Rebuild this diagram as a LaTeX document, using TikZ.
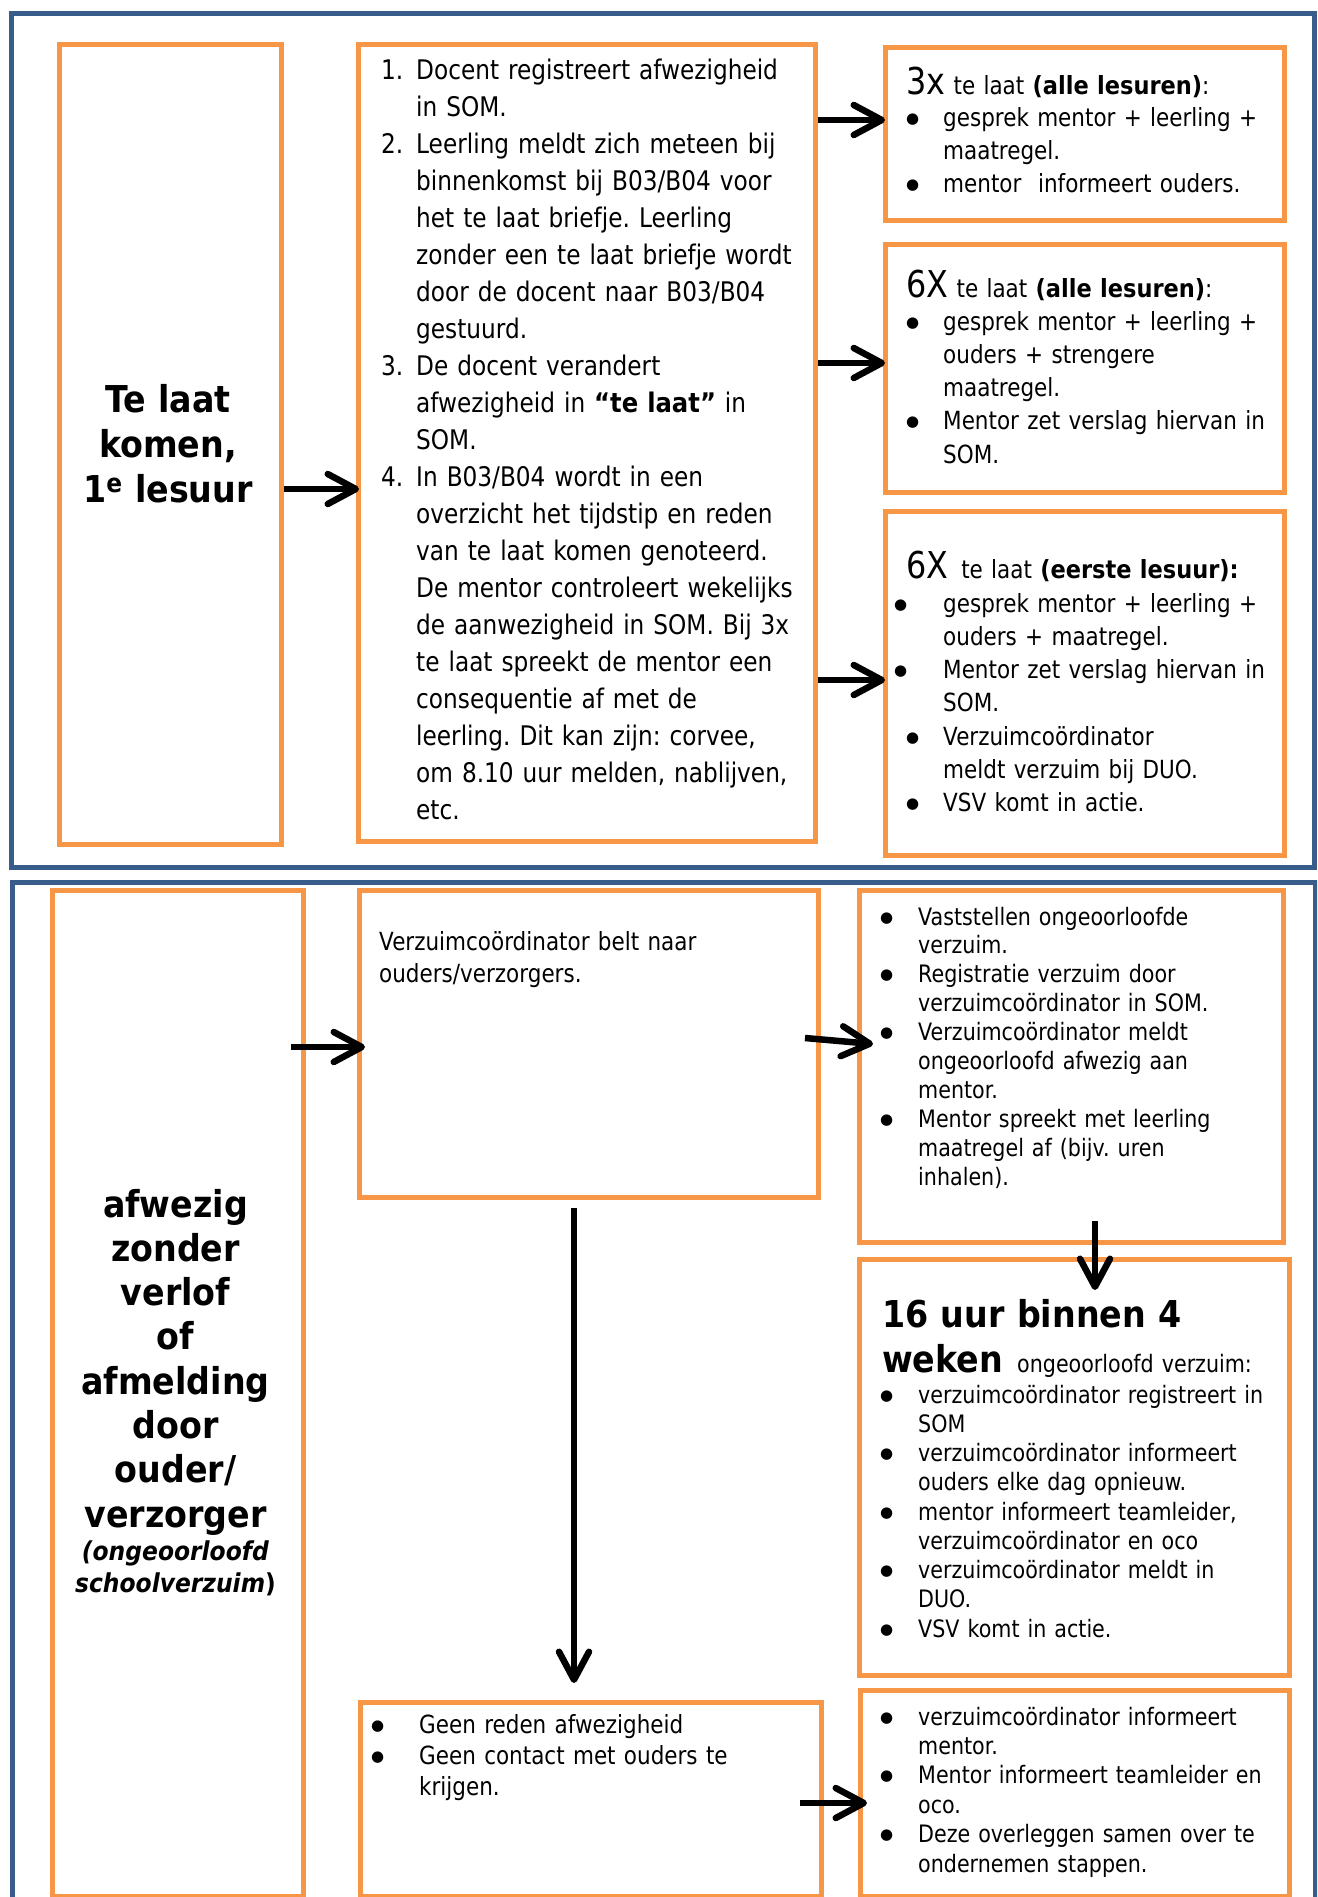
\documentclass[tikz,border=0pt]{standalone}
\usepackage{fontspec}
\setmainfont{DejaVu Sans}[FakeStretch=0.86,BoldFeatures={FakeStretch=0.9},BoldItalicFeatures={FakeStretch=0.9}]
\newfontfamily\dotfont{DejaVu Sans}
\usetikzlibrary{arrows.meta,calc}
\definecolor{orng}{RGB}{247,150,70}
\definecolor{blu}{RGB}{56,93,138}
\newlength\mybw
\newcommand\myfs[2]{\fontsize{#1}{#2}\selectfont}
\newcommand\mydot{\raisebox{3pt}{\dotfont\fontsize{15}{15}\selectfont ●}}
\newcommand\mybul{\makebox[\mybw][l]{\mydot}}
\newcommand\mybulL{\makebox[\mybw][l]{\hspace*{-12pt}\mydot}}
\newcommand\myind{\hspace*{\mybw}}
\newcommand\mynum[1]{\makebox[35pt][l]{#1}}
\newcommand\obox[5]{\node[obox, minimum width={#4-#2}, minimum height={#5-#3}] (#1) at (#2,#3) {};}
\newcommand\bbox[5]{\node[bframe, minimum width={#4-#2}, minimum height={#5-#3}] (#1) at (#2,#3) {};}
\frenchspacing
\tikzset{
  obox/.style={draw=orng, line width=5pt, inner sep=0pt, anchor=north west},
  bframe/.style={draw=blu, line width=5pt, inner sep=0pt, anchor=north west},
  arr/.style={line width=6.5pt, -{Straight Barb[length=28pt,width=30pt,round]}},
  txt/.style={inner sep=0pt, anchor=base west, align=left, text width=440pt},
  ctxt/.style={inner sep=0pt, anchor=base, align=center, text width=240pt},
}
\begin{document}
\begin{tikzpicture}[x=1pt,y=-1pt]
\useasboundingbox (0,0) rectangle (1317,1897);
\clip (0,0) rectangle (1317,1897);
% frames
\bbox{top}{9}{11}{1312}{865}
\bbox{bot}{10}{880}{1313}{1960}
% top section boxes
\obox{A}{57}{42}{279}{842}
\obox{B}{356}{42}{813}{839}
\obox{C1}{883}{45}{1282}{218}
\obox{C2}{883}{242}{1282}{490}
\obox{C3}{883}{509}{1282}{853}
% bottom section boxes
\obox{D}{50}{888}{301}{1894}
\obox{E}{357}{888}{816}{1195}
\obox{F}{857}{888}{1281}{1240}
\obox{G}{857}{1257}{1287}{1673}
\obox{H}{358}{1700}{819}{1894}
\obox{I}{858}{1688}{1287}{1894}
% texts top
\node[ctxt, font=\bfseries\myfs{37}{45}] (At) at (168,412) {Te laat\\komen,\\1\textsuperscript{e} lesuur};
\node[txt, font=\myfs{27}{37}] (Bt) at (381,80) {\mynum{1.}Docent registreert afwezigheid\\
\hspace*{35pt}in SOM.\\
\mynum{2.}Leerling meldt zich meteen bij\\
\hspace*{35pt}binnenkomst bij B03/B04 voor\\
\hspace*{35pt}het te laat briefje. Leerling\\
\hspace*{35pt}zonder een te laat briefje wordt\\
\hspace*{35pt}door de docent naar B03/B04\\
\hspace*{35pt}gestuurd.\\
\mynum{3.}De docent verandert\\
\hspace*{35pt}afwezigheid in \textbf{“te laat”} in\\
\hspace*{35pt}SOM.\\
\mynum{4.}In B03/B04 wordt in een\\
\hspace*{35pt}overzicht het tijdstip en reden\\
\hspace*{35pt}van te laat komen genoteerd.\\
\hspace*{35pt}De mentor controleert wekelijks\\
\hspace*{35pt}de aanwezigheid in SOM. Bij 3x\\
\hspace*{35pt}te laat spreekt de mentor een\\
\hspace*{35pt}consequentie af met de\\
\hspace*{35pt}leerling. Dit kan zijn: corvee,\\
\hspace*{35pt}om 8.10 uur melden, nablijven,\\
\hspace*{35pt}etc.};
\node[txt, font=\myfs{25}{33}] (C1h) at (906,95) {{\myfs{37}{37}3x} te laat \textbf{(alle lesuren)}:};
\node[txt, font={\myfs{25}{33}\setlength\mybw{37pt}}] (C1t) at (906,127) {\mybul gesprek mentor + leerling +\\\myind maatregel.\\\mybul mentor\ \ informeert ouders.};
\node[txt, font=\myfs{25}{33}] (C2h) at (906,297) {{\myfs{37}{37}6X} te laat \textbf{(alle lesuren)}:};
\node[txt, font={\myfs{25}{33.3}\setlength\mybw{37pt}}] (C2t) at (906,330) {\mybul gesprek mentor + leerling +\\\myind ouders + strengere\\\myind maatregel.\\\mybul Mentor zet verslag hiervan in\\\myind SOM.};
\node[txt, font=\myfs{25}{33}] (C3h) at (906,578) {{\myfs{37}{37}6X}\hspace{13pt}te laat \textbf{(eerste lesuur):}};
\node[txt, font={\myfs{25}{33.3}\setlength\mybw{37pt}}] (C3t) at (906,612) {\mybulL gesprek mentor + leerling +\\\myind ouders + maatregel.\\\mybulL Mentor zet verslag hiervan in\\\myind SOM.\\\mybul Verzuimcoördinator\\\myind meldt verzuim bij DUO.\\\mybul VSV komt in actie.};
% texts bottom
\node[ctxt, font=\bfseries\myfs{37}{44.3}] (Dt) at (175.5,1217) {afwezig\\zonder\\verlof\\of\\afmelding\\door\\ouder/\\verzorger};
\node[ctxt, font=\bfseries\myfs{26}{32}] (Ds) at (175.5,1560) {\textit{(ongeoorloofd}\\\textit{schoolverzuim})};
\node[txt, font=\myfs{25}{32}] (Et) at (379,950) {Verzuimcoördinator belt naar\\ouders/verzorgers.};
\node[txt, font={\myfs{24}{28.9}\setlength\mybw{38pt}}] (Ft) at (880,925) {\mybul Vaststellen ongeoorloofde\\\myind verzuim.\\\mybul Registratie verzuim door\\\myind verzuimcoördinator in SOM.\\\mybul Verzuimcoördinator meldt\\\myind ongeoorloofd afwezig aan\\\myind mentor.\\\mybul Mentor spreekt met leerling\\\myind maatregel af (bijv. uren\\\myind inhalen).};
\node[txt, font=\bfseries\myfs{37}{45}] (Gh1) at (882,1327) {16 uur binnen 4};
\node[txt, font=\bfseries\myfs{37}{45}] (Gh2) at (882,1372) {weken};
\node[txt, font=\myfs{24}{29}] (Gh3) at (1017,1372) {ongeoorloofd verzuim:};
\node[txt, font={\myfs{24}{29.25}\setlength\mybw{38pt}}] (Gt) at (880,1403) {\mybul verzuimcoördinator registreert in\\\myind SOM\\\mybul verzuimcoördinator informeert\\\myind ouders elke dag opnieuw.\\\mybul mentor informeert teamleider,\\\myind verzuimcoördinator en oco\\\mybul verzuimcoördinator meldt in\\\myind DUO.\\\mybul VSV komt in actie.};
\node[txt, font={\myfs{25}{31}\setlength\mybw{48pt}}] (Ht) at (371,1733) {\mybul Geen reden afwezigheid\\\mybul Geen contact met ouders te\\\myind krijgen.};
\node[txt, font={\myfs{24}{29.4}\setlength\mybw{38pt}}] (It) at (880,1725) {\mybul verzuimcoördinator informeert\\\myind mentor.\\\mybul Mentor informeert teamleider en\\\myind oco.\\\mybul Deze overleggen samen over te\\\myind ondernemen stappen.};
% arrows
\draw[arr] (A.east |- 0,489) -- ($(B.west |- 0,489)+(3,0)$);
\draw[arr] (B.east |- 0,120) -- ($(C1.west |- 0,120)+(2,0)$);
\draw[arr] (B.east |- 0,363) -- ($(C2.west |- 0,363)+(2,0)$);
\draw[arr] (B.east |- 0,680) -- ($(C3.west |- 0,680)+(2,0)$);
\draw[arr] ($(D.east |- 0,1047)+(-15,0)$) -- ($(E.west |- 0,1047)+(8,0)$);
\draw[arr] ($(E.east |- 0,1038)+(-16,0)$) -- ($(F.west |- 0,1044)+(16,0)$);
\draw[arr] ($(574,0 |- E.south)+(0,8)$) -- ($(574,0 |- H.north)+(0,-17)$);
\draw[arr] ($(1095,0 |- F.south)+(0,-24)$) -- ($(1095,0 |- G.north)+(0,33)$);
\draw[arr] ($(H.east |- 0,1803)+(-24,0)$) -- ($(I.west |- 0,1803)+(9,0)$);
\end{tikzpicture}
\end{document}
